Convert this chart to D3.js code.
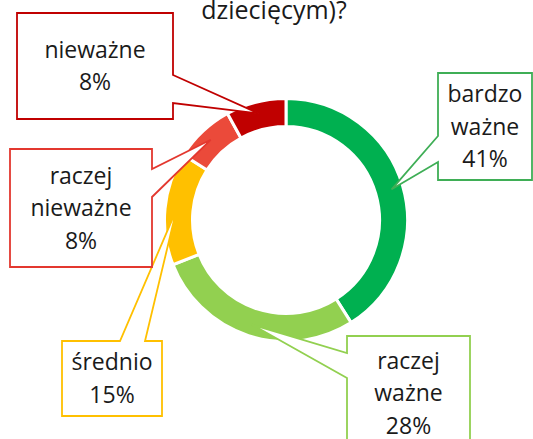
<!DOCTYPE html>
<html>
<head>
<meta charset="utf-8">
<script src="https://cdn.jsdelivr.net/npm/d3@7"></script>
<style>
  html, body { margin: 0; padding: 0; background: #fff; }
  svg { display: block; font-family: "Open Sans", sans-serif; }
</style>
</head>
<body>
<div id="chart"></div>
<script>
// dane z wykresu
const categories = ["bardzo ważne", "raczej ważne", "średnio", "raczej nieważne", "nieważne"];
const values = [41, 28, 15, 8, 8];
const labelLines = [["bardzo", "ważne"], ["raczej", "ważne"], ["średnio"], ["raczej", "nieważne"], ["nieważne"]];
const sliceColors = ["#00b050", "#92d050", "#ffc000", "#eb4a3a", "#c00000"];
const boxColors = ["#3fae56", "#92d050", "#ffc000", "#e3382f", "#c00000"];
const titleText = "dziecięcym)?";

const width = 533, height = 439;
const cx = 286, cy = 220;

// pudełka z etykietami: [x0, y0, x1, y1], strona klina i zakres na tej stronie
const boxes = [
  { box: [438, 73, 532, 180], side: "left", a: 136, b: 162 },
  { box: [347, 336, 470, 450], side: "left", a: 353, b: 378 },
  { box: [62, 341, 162, 416], side: "top", a: 120, b: 145 },
  { box: [10, 149, 152, 267], side: "right", a: 169, b: 197 },
  { box: [17, 13, 173, 119], side: "right", a: 75, b: 103 }
];

const svg = d3.select("#chart").append("svg")
  .attr("width", width)
  .attr("height", height)
  .attr("viewBox", [0, 0, width, height]);

// tytuł - widoczna jest tylko ostatnia linia
svg.append("text")
  .attr("x", 274)
  .attr("y", 19)
  .attr("text-anchor", "middle")
  .attr("font-size", 25)
  .attr("fill", "#1a1a1a")
  .text(titleText);

const pie = d3.pie().sort(null).value(d => d)(values);

const arc = d3.arc().innerRadius(93.5).outerRadius(121.5);
const tipArc = d3.arc().innerRadius(110).outerRadius(110);

const g = svg.append("g").attr("transform", `translate(${cx},${cy})`);

g.selectAll("path.slice")
  .data(pie)
  .join("path")
  .attr("class", "slice")
  .attr("d", arc)
  .attr("fill", (d, i) => sliceColors[i])
  .attr("stroke", "#fff")
  .attr("stroke-width", 3);

// objaśnienia z klinem
function calloutPath(c, tip) {
  const [x0, y0, x1, y1] = c.box;
  const t = `L${tip[0]},${tip[1]}`;
  if (c.side === "left") {
    return `M${x0},${y0}L${x1},${y0}L${x1},${y1}L${x0},${y1}L${x0},${c.b}${t}L${x0},${c.a}Z`;
  }
  if (c.side === "right") {
    return `M${x0},${y0}L${x1},${y0}L${x1},${c.a}${t}L${x1},${c.b}L${x1},${y1}L${x0},${y1}Z`;
  }
  // top
  return `M${x0},${y0}L${c.a},${y0}${t}L${c.b},${y0}L${x1},${y0}L${x1},${y1}L${x0},${y1}Z`;
}

pie.forEach((d, i) => {
  const c = boxes[i];
  const p = tipArc.centroid(d);
  const tip = [cx + p[0], cy + p[1]];
  svg.append("path")
    .attr("d", calloutPath(c, tip))
    .attr("fill", "#fff")
    .attr("stroke", boxColors[i])
    .attr("stroke-width", 1.8)
    .attr("stroke-linejoin", "miter");

  const lines = labelLines[i].concat([values[i] + "%"]);
  const lh = 32.5;
  const midX = (c.box[0] + c.box[2]) / 2;
  const midY = (c.box[1] + c.box[3]) / 2;
  const start = midY - (lines.length - 1) * lh / 2;
  const txt = svg.append("text")
    .attr("text-anchor", "middle")
    .attr("font-size", 23)
    .attr("fill", "#1a1a1a");
  lines.forEach((s, k) => {
    txt.append("tspan")
      .attr("x", midX)
      .attr("y", start + k * lh + 8)
      .text(s);
  });
});
</script>
</body>
</html>
